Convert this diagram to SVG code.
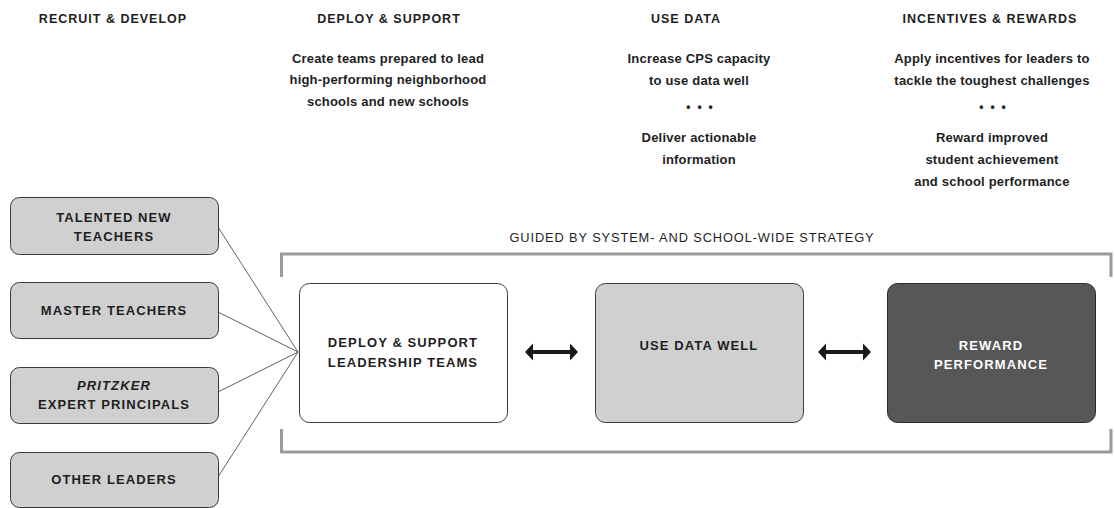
<svg xmlns="http://www.w3.org/2000/svg" width="1114" height="508" viewBox="0 0 1114 508">
<style>
text{font-family:"Liberation Sans",Arial,sans-serif;fill:#1e1e1e;text-anchor:middle}
.hd{font-size:12.5px;font-weight:bold;letter-spacing:1px}
.bd{font-size:13px;font-weight:bold;letter-spacing:0.2px}
.dt{font-size:12px;font-weight:bold;letter-spacing:7px}
.gd{font-size:12.8px;letter-spacing:0.9px}
.nt{font-size:13px;font-weight:bold;letter-spacing:1.1px}
.lb{fill:#d0d0d0;stroke:#3a3a3a;stroke-width:1}
.wb{fill:#ffffff;stroke:#3a3a3a;stroke-width:1}
.db{fill:#575757;stroke:#2a2a2a;stroke-width:1}
.br{fill:none;stroke:#9a9a9a;stroke-width:3}
.ln{stroke:#3a3a3a;stroke-width:0.8;fill:none}
.ar{stroke:#1a1a1a;stroke-width:4;fill:none}
.ah{fill:#1a1a1a}
</style>
<g id="headers">
<text class="hd" x="113" y="23">RECRUIT &amp; DEVELOP</text>
<text class="hd" x="389" y="23">DEPLOY &amp; SUPPORT</text>
<text class="hd" x="686" y="23">USE DATA</text>
<text class="hd" x="990" y="23">INCENTIVES &amp; REWARDS</text>
</g>
<g id="descriptions">
<text class="bd" x="388" y="63">Create teams prepared to lead</text>
<text class="bd" x="388" y="84">high-performing neighborhood</text>
<text class="bd" x="388" y="106">schools and new schools</text>
<text class="bd" x="699" y="63">Increase CPS capacity</text>
<text class="bd" x="699" y="85">to use data well</text>
<text class="dt" x="703" y="111">•••</text>
<text class="bd" x="699" y="142">Deliver actionable</text>
<text class="bd" x="699" y="164">information</text>
<text class="bd" x="992" y="63">Apply incentives for leaders to</text>
<text class="bd" x="992" y="85">tackle the toughest challenges</text>
<text class="dt" x="996" y="111">•••</text>
<text class="bd" x="992" y="142">Reward improved</text>
<text class="bd" x="992" y="164">student achievement</text>
<text class="bd" x="992" y="186">and school performance</text>
</g>
<g id="strategy-frame">
<text class="gd" x="692" y="242">GUIDED BY SYSTEM- AND SCHOOL-WIDE STRATEGY</text>
<polyline class="br" points="281.5,277 281.5,254 1111,254 1111,277"/>
<polyline class="br" points="281.5,429 281.5,452 1111,452 1111,429"/>
</g>
<g id="connectors">
<line class="ln" x1="218" y1="227" x2="298" y2="352"/>
<line class="ln" x1="218" y1="312" x2="298" y2="352"/>
<line class="ln" x1="218" y1="392" x2="298" y2="352"/>
<line class="ln" x1="218" y1="477" x2="298" y2="352"/>
<g id="arrow1">
<line class="ar" x1="532" y1="352" x2="571" y2="352"/>
<polygon class="ah" points="525,352 533,343.5 533,360.5"/>
<polygon class="ah" points="578,352 570,343.5 570,360.5"/>
</g>
<g id="arrow2">
<line class="ar" x1="825" y1="352" x2="864" y2="352"/>
<polygon class="ah" points="818,352 826,343.5 826,360.5"/>
<polygon class="ah" points="871,352 863,343.5 863,360.5"/>
</g>
</g>
<g id="talented-new-teachers">
<rect class="lb" x="10.5" y="197.5" width="208" height="57" rx="9"/>
<text class="nt" x="114" y="222">TALENTED NEW</text>
<text class="nt" x="114" y="241">TEACHERS</text>
</g>
<g id="master-teachers">
<rect class="lb" x="10.5" y="282.5" width="208" height="56" rx="9"/>
<text class="nt" x="114" y="315">MASTER TEACHERS</text>
</g>
<g id="pritzker-expert-principals">
<rect class="lb" x="10.5" y="367.5" width="208" height="56" rx="9"/>
<text class="nt" x="114" y="390" font-style="italic">PRITZKER</text>
<text class="nt" x="114" y="409">EXPERT PRINCIPALS</text>
</g>
<g id="other-leaders">
<rect class="lb" x="10.5" y="452.5" width="208" height="55" rx="9"/>
<text class="nt" x="114" y="484">OTHER LEADERS</text>
</g>
<g id="deploy-support-leadership-teams">
<rect class="wb" x="299.5" y="283.5" width="208" height="139" rx="10"/>
<text class="nt" x="403" y="347">DEPLOY &amp; SUPPORT</text>
<text class="nt" x="403" y="367">LEADERSHIP TEAMS</text>
</g>
<g id="use-data-well">
<rect class="lb" x="595.5" y="283.5" width="208" height="139" rx="10"/>
<text class="nt" x="699" y="350">USE DATA WELL</text>
</g>
<g id="reward-performance">
<rect class="db" x="887.5" y="283.5" width="208" height="139" rx="10"/>
<text class="nt" x="991" y="350" style="fill:#ffffff">REWARD</text>
<text class="nt" x="991" y="369" style="fill:#ffffff">PERFORMANCE</text>
</g>
</svg>
